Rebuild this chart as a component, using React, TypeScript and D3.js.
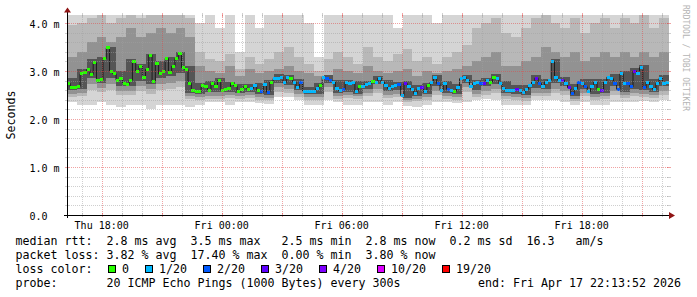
import React from "react";
import * as d3 from "d3";

// ---------- data ----------
// median RTT per 10-minute step, in ms
const MEDIAN_MS = [
  2.74, 2.66, 2.66, 2.68, 2.94, 2.97, 3.03, 2.93, 3.17, 2.81,
  2.82, 3.26, 3.48, 3.0, 2.94, 2.81, 2.85, 2.74, 2.72, 2.81,
  3.19, 3.0, 3.1, 2.87, 3.03, 3.33, 2.78, 3.15, 2.94, 3.0,
  3.26, 2.97, 3.1, 3.26, 3.36, 3.07, 3.03, 2.74, 2.6, 2.58,
  2.57, 2.69, 2.67, 2.6, 2.74, 2.67, 2.8, 2.6, 2.62, 2.64,
  2.74, 2.69, 2.58, 2.62, 2.67, 2.62, 2.64, 2.69, 2.6, 2.57,
  2.72,
  2.56, 2.77, 2.84, 2.85, 2.87, 2.76, 2.87, 2.84, 2.77, 2.65,
  2.77, 2.58, 2.57, 2.58, 2.57, 2.63, 2.7, 2.87, 2.84, 2.81,
  2.77, 2.63, 2.59, 2.62, 2.77, 2.74, 2.76, 2.58, 2.67, 2.67,
  2.72, 2.74, 2.79, 2.77, 2.85, 2.77, 2.69, 2.63, 2.67, 2.69,
  2.72, 2.49, 2.74, 2.67, 2.62, 2.53, 2.63, 2.65, 2.57, 2.7,
  2.77, 2.87, 2.74, 2.59, 2.74, 2.62, 2.6, 2.58, 2.65, 2.84,
  2.87,
  2.81, 2.67, 2.74, 2.76, 2.74, 2.74, 2.81, 2.77, 2.87, 2.84,
  2.74, 2.63, 2.6, 2.59, 2.59, 2.62, 2.59, 2.55, 2.62, 2.7,
  2.77, 2.85, 2.74, 2.67, 2.77, 2.81, 3.19, 2.87, 2.81, 2.81,
  2.74, 2.65, 2.53, 2.63, 2.77, 2.74, 2.67, 2.57, 2.67, 2.77,
  2.62, 2.6, 2.77, 2.87, 2.84, 2.74, 2.62, 2.94, 2.74, 2.74,
  2.67, 3.0, 2.94, 3.07, 2.65, 2.77, 2.67, 2.62, 2.74, 2.85,
  2.74, 2.77,
];
// lost pings (of 20) per step
const MEDIAN_LOSS = [
  0, 0, 0, 0, 0, 0, 0, 0, 0, 0,
  0, 0, 0, 0, 0, 0, 0, 0, 0, 0,
  0, 0, 0, 0, 0, 0, 0, 0, 0, 0,
  0, 0, 0, 0, 0, 0, 0, 0, 0, 0,
  0, 0, 0, 0, 0, 0, 0, 0, 0, 0,
  0, 0, 0, 0, 0, 0, 1, 1, 0, 2,
  1,
  2, 0, 1, 1, 1, 1, 1, 0, 1, 1,
  2, 1, 1, 1, 1, 1, 0, 1, 2, 2,
  1, 1, 1, 2, 1, 1, 1, 1, 0, 1,
  1, 1, 0, 1, 1, 1, 1, 1, 1, 1,
  2, 1, 3, 1, 1, 1, 1, 3, 1, 0,
  1, 1, 2, 1, 1, 2, 1, 0, 1, 1,
  1,
  1, 1, 1, 1, 2, 3, 1, 0, 0, 1,
  1, 1, 1, 1, 1, 3, 1, 1, 1, 1,
  1, 3, 2, 1, 1, 1, 1, 1, 1, 3,
  1, 3, 2, 1, 2, 1, 2, 1, 1, 1,
  0, 3, 1, 1, 1, 2, 2, 1, 1, 2,
  2, 3, 1, 1, 2, 1, 1, 1, 1, 1,
  1, 1,
];

// smoke (ping distribution) per 30-minute column, in ms
const SMOKE_MAX = [
  4.17, 4.17, 4.17, 4.17, 4.17, 4.17, 4.17, 4.17, 4.17, 4.17,
  4.17, 4.17, 4.17, 4.0, 4.17, 3.9, 4.17, 3.4, 4.17, 3.9,
  4.17, 4.17, 4.17, 4.17, 4.0, 3.3, 4.17, 4.17, 4.17, 4.17,
  4.17, 4.17, 4.17, 3.9, 4.17, 4.17, 4.17, 4.0, 4.17, 4.17,
  4.17, 4.17, 4.17, 4.17, 4.17, 4.17, 4.17, 4.17, 4.17, 4.17,
  4.17, 4.17, 4.17, 4.17, 4.17, 4.17, 4.17, 4.17, 4.17, 4.17,
  4.17,
];
const SMOKE_P90 = [
  3.95, 4.0, 4.1, 4.17, 4.0, 4.1, 4.17, 4.1, 4.17, 4.17,
  4.17, 4.17, 4.1, 3.4, 3.25, 3.2, 3.35, 3.05, 3.3, 3.15,
  3.25, 3.4, 3.5, 3.3, 3.15, 3.0, 3.25, 3.4, 3.3, 3.15,
  3.5, 3.3, 3.2, 3.35, 3.45, 3.2, 3.3, 3.15, 3.3, 3.4,
  3.55, 3.9, 4.0, 4.1, 3.8, 3.7, 3.9, 4.1, 4.17, 4.0,
  3.9, 4.1, 3.8, 4.0, 4.1, 3.9, 4.1, 4.0, 4.17, 3.9,
  4.1,
];
const SMOKE_P75 = [
  3.3, 3.4, 3.6, 3.7, 3.6, 3.7, 3.9, 3.7, 3.8, 3.9,
  3.8, 3.9, 3.7, 3.1, 3.0, 2.95, 3.1, 2.9, 3.05, 2.95,
  3.0, 3.05, 3.1, 3.0, 2.95, 2.9, 2.9, 3.05, 3.0, 2.95,
  3.1, 3.0, 2.95, 3.0, 3.05, 2.9, 3.0, 2.95, 3.0, 3.05,
  3.1, 3.2, 3.3, 3.4, 3.1, 3.1, 3.2, 3.3, 3.5, 3.4,
  3.3, 3.4, 3.2, 3.3, 3.4, 3.3, 3.4, 3.3, 3.4, 3.3,
  3.4,
];
const SMOKE_P60 = [
  2.85, 3.05, 3.25, 3.3, 3.5, 3.0, 3.25, 3.15, 3.35, 3.2,
  3.3, 3.4, 3.1, 2.75, 2.8, 2.85, 2.78, 2.73, 2.72, 2.74,
  2.82, 2.93, 2.92, 2.83, 2.66, 2.76, 2.92, 2.82, 2.82, 2.8,
  2.8, 2.9, 2.82, 2.78, 2.8, 2.7, 2.76, 2.92, 2.8, 2.72,
  2.92, 2.82, 2.86, 2.94, 2.8, 2.7, 2.7, 2.92, 2.84, 3.25,
  2.88, 2.72, 2.84, 2.84, 2.84, 2.94, 3.0, 3.06, 3.12, 2.84,
  2.92,
];
const SMOKE_P40 = [
  2.6, 2.62, 2.85, 2.75, 2.85, 2.68, 2.68, 2.8, 2.72, 2.85,
  2.9, 2.95, 2.55, 2.52, 2.56, 2.56, 2.57, 2.54, 2.57, 2.52,
  2.5, 2.76, 2.7, 2.6, 2.52, 2.52, 2.76, 2.54, 2.57, 2.53,
  2.62, 2.72, 2.58, 2.6, 2.44, 2.48, 2.52, 2.68, 2.54, 2.53,
  2.76, 2.6, 2.68, 2.72, 2.54, 2.53, 2.5, 2.64, 2.62, 2.74,
  2.68, 2.48, 2.62, 2.52, 2.55, 2.68, 2.56, 2.62, 2.6, 2.57,
  2.68,
];
const SMOKE_P25 = [
  2.52, 2.54, 2.72, 2.65, 2.72, 2.58, 2.58, 2.68, 2.62, 2.72,
  2.76, 2.8, 2.48, 2.46, 2.48, 2.48, 2.5, 2.47, 2.5, 2.46,
  2.44, 2.66, 2.62, 2.52, 2.46, 2.45, 2.66, 2.47, 2.5, 2.47,
  2.54, 2.62, 2.5, 2.52, 2.4, 2.42, 2.46, 2.58, 2.47, 2.46,
  2.66, 2.52, 2.58, 2.62, 2.47, 2.46, 2.44, 2.55, 2.54, 2.62,
  2.58, 2.42, 2.54, 2.46, 2.48, 2.58, 2.49, 2.54, 2.52, 2.5,
  2.58,
];
const SMOKE_P10 = [
  2.46, 2.48, 2.6, 2.56, 2.6, 2.5, 2.5, 2.58, 2.52, 2.6,
  2.62, 2.66, 2.42, 2.4, 2.42, 2.42, 2.44, 2.41, 2.44, 2.4,
  2.39, 2.56, 2.54, 2.45, 2.4, 2.39, 2.56, 2.41, 2.44, 2.41,
  2.47, 2.54, 2.44, 2.46, 2.35, 2.37, 2.4, 2.5, 2.41, 2.4,
  2.56, 2.46, 2.5, 2.54, 2.41, 2.4, 2.38, 2.48, 2.47, 2.54,
  2.5, 2.37, 2.47, 2.4, 2.42, 2.5, 2.43, 2.47, 2.45, 2.44,
  2.5,
];
const SMOKE_MIN = [
  2.35, 2.3, 2.3, 2.35, 2.3, 2.25, 2.3, 2.3, 2.2, 2.3,
  2.3, 2.3, 2.25, 2.3, 2.35, 2.35, 2.3, 2.35, 2.35, 2.33,
  2.32, 2.45, 2.45, 2.4, 2.3, 2.3, 2.4, 2.35, 2.3, 2.3,
  2.35, 2.35, 2.3, 2.35, 2.28, 2.25, 2.3, 2.35, 2.35, 2.33,
  2.35, 2.4, 2.42, 2.4, 2.3, 2.3, 2.3, 2.4, 2.4, 2.4,
  2.35, 2.3, 2.35, 2.3, 2.3, 2.35, 2.35, 2.35, 2.38, 2.35,
  2.4,
];

// time axis: hours counted from Thursday 00:00
const TIME_START_H = 16.265;
const TIME_END_H = 46.365;
const DAY_NAMES = ["Thu", "Fri"];
const X_LABEL_EVERY_H = 6;
const X_MAJOR_EVERY_H = 3;

const Y_MAX_MS = 200 / 48;
const Y_TICK_VALUES = [0, 1, 2, 3, 4];
const Y_TICK_LABELS = ["0.0", "1.0 m", "2.0 m", "3.0 m", "4.0 m"];

const LOSS_LEVELS = [0, 1, 2, 3, 4, 10, 19];
const LOSS_LABELS = ["0", "1/20", "2/20", "3/20", "4/20", "10/20", "19/20"];
const LOSS_COLORS = ["#26ff00", "#00b8ff", "#0059ff", "#5e00ff", "#7e00ff", "#dd00ff", "#ff0000"];

const STAT_LINES = [
  "median rtt:  2.8 ms avg  3.5 ms max   2.5 ms min  2.8 ms now  0.2 ms sd  16.3   am/s",
  "packet loss: 3.82 % avg  17.40 % max  0.00 % min  3.80 % now",
];
const LOSS_TITLE = "loss color:";
const PROBE_LINE = "probe:       20 ICMP Echo Pings (1000 Bytes) every 300s";
const END_TEXT = "end: Fri Apr 17 22:13:52 2026";
const Y_TITLE = "Seconds";
const WATERMARK = "RRDTOOL / TOBI OETIKER";

const SMOKE_BANDS = [
  { lo: SMOKE_MIN, hi: SMOKE_MAX, color: "#d5d5d5" },
  { lo: SMOKE_P10, hi: SMOKE_P90, color: "#b8b8b8" },
  { lo: SMOKE_P25, hi: SMOKE_P75, color: "#929292" },
  { lo: SMOKE_P40, hi: SMOKE_P60, color: "#555555" },
];

const MONO = "'DejaVu Sans Mono', monospace";

function lossColor(v: number) {
  let c = LOSS_COLORS[0];
  LOSS_LEVELS.forEach((l, i) => {
    if (v >= l) c = LOSS_COLORS[i];
  });
  return c;
}

function fmtHour(h: number) {
  const day = DAY_NAMES[Math.floor(h / 24)];
  const hh = ((h % 24) + 24) % 24;
  return `${day} ${String(hh).padStart(2, "0")}:00`;
}

export default function App() {
  const W = 697, H = 297;
  const left = 67, right = 669, top = 15, bottom = 215;

  const x = d3.scaleLinear().domain([TIME_START_H, TIME_END_H]).range([left, right]);
  const y = d3.scaleLinear().domain([0, Y_MAX_MS]).range([bottom, top]).clamp(true);

  // smoke areas
  const nCols = SMOKE_MIN.length;
  const colStep = (TIME_END_H - TIME_START_H) / nCols;
  const colIdx = d3.range(nCols + 1);
  const smokePaths = SMOKE_BANDS.map((b) => {
    const area = d3
      .area<number>()
      .curve(d3.curveStepAfter)
      .x((k) => x(TIME_START_H + k * colStep))
      .y0((k) => y(b.lo[Math.min(k, nCols - 1)]))
      .y1((k) => y(b.hi[Math.min(k, nCols - 1)]));
    return { d: area(colIdx) || "", color: b.color };
  });

  // median
  const nM = MEDIAN_MS.length;
  const mStep = (TIME_END_H - TIME_START_H) / nM;
  const medIdx = d3.range(nM + 1);
  const medLine =
    d3
      .line<number>()
      .curve(d3.curveStepAfter)
      .x((i) => x(TIME_START_H + i * mStep))
      .y((i) => y(MEDIAN_MS[Math.min(i, nM - 1)]))(medIdx) || "";

  // grid
  const hourTicks = d3.range(Math.ceil(TIME_START_H), TIME_END_H);
  const valTicks = d3.range(1, 21).map((i) => ({ v: i * 0.2, major: i % 5 === 0 }));
  const minorCol = "rgba(160,160,160,0.5)";
  const majorCol = "rgba(225,70,70,0.5)";
  const labelHours = hourTicks.filter((h) => h % X_LABEL_EVERY_H === 0);

  // legend layout
  const legendItems: { bx: number; tx: number; label: string; color: string }[] = [];
  let lx = 108;
  LOSS_LABELS.forEach((label, i) => {
    legendItems.push({ bx: lx, tx: lx + 14, label, color: LOSS_COLORS[i] });
    lx = lx + 14 + label.length * 7 + 16;
  });

  return (
    <svg
      width={W}
      height={H}
      viewBox={`0 0 ${W} ${H}`}
      style={{ position: "absolute", left: 0, top: 0, background: "#fff" }}
    >
      <rect x={0} y={0} width={W} height={H} fill="#ffffff" />

      {/* smoke */}
      <g shapeRendering="crispEdges">
        {smokePaths.map((p, i) => (
          <path key={i} d={p.d} fill={p.color} />
        ))}
      </g>

      {/* median connectors */}
      <path d={medLine} fill="none" stroke="#1c1c1c" strokeWidth={1} />

      {/* median coloured by loss */}
      <g shapeRendering="crispEdges">
        {MEDIAN_MS.map((m, i) => {
          const x0 = x(TIME_START_H + i * mStep);
          const x1 = x(TIME_START_H + (i + 1) * mStep);
          return (
            <rect
              key={i}
              x={x0}
              y={y(m) - 1.5}
              width={x1 - x0}
              height={3}
              fill={lossColor(MEDIAN_LOSS[i])}
            />
          );
        })}
      </g>

      {/* grid */}
      <g shapeRendering="crispEdges">
        {valTicks.map((t, i) => {
          const yy = Math.round(y(t.v)) + 0.5;
          const c = t.major ? majorCol : minorCol;
          return (
            <g key={"h" + i}>
              <line x1={left} x2={right} y1={yy} y2={yy} stroke={c} strokeDasharray="1,1" />
              <line x1={left - 2} x2={left + 2} y1={yy} y2={yy} stroke={c} />
              <line x1={right - 2} x2={right + 2} y1={yy} y2={yy} stroke={c} />
            </g>
          );
        })}
        {hourTicks.map((h) => {
          const xx = Math.round(x(h)) + 0.5;
          const c = h % X_MAJOR_EVERY_H === 0 ? majorCol : minorCol;
          return (
            <g key={"v" + h}>
              <line x1={xx} x2={xx} y1={top} y2={bottom} stroke={c} strokeDasharray="1,1" />
              <line x1={xx} x2={xx} y1={bottom - 2} y2={bottom + 2} stroke={c} />
              <line x1={xx} x2={xx} y1={top - 2} y2={top + 2} stroke={c} />
            </g>
          );
        })}
      </g>

      {/* axes */}
      <g shapeRendering="crispEdges">
        <line x1={64} x2={670} y1={bottom + 0.5} y2={bottom + 0.5} stroke="#000" />
        <line x1={left + 0.5} x2={left + 0.5} y1={bottom + 3} y2={12} stroke="#000" />
      </g>
      <path d={`M${left - 3},${12.5} L${left + 0.5},${7.5} L${left + 4},${12.5} Z`} fill="#8f1414" />
      <path d={`M${669},${212} L${675},${215.5} L${669},${219} Z`} fill="#8f1414" />

      {/* tick labels */}
      <g fontFamily={MONO} fontSize={10} fill="#000">
        {Y_TICK_VALUES.map((v, i) => (
          <text key={i} x={29.5} y={y(v) + 5} style={{ whiteSpace: "pre" }}>
            {Y_TICK_LABELS[i]}
          </text>
        ))}
        {labelHours.map((h) => (
          <text key={h} x={x(h)} y={228.5} textAnchor="middle">
            {fmtHour(h)}
          </text>
        ))}
      </g>

      {/* y title */}
      <text
        transform={`translate(15,${(top + bottom) / 2}) rotate(-90)`}
        textAnchor="middle"
        fontFamily={MONO}
        fontSize={11.63}
        fill="#000"
      >
        {Y_TITLE}
      </text>

      {/* watermark */}
      <text transform={`translate(683,5) rotate(90)`} fontFamily={MONO} fontSize={8} fill="#b4b4b4">
        {WATERMARK}
      </text>

      {/* legend */}
      <g fontFamily={MONO} fontSize={11.63} fill="#000" style={{ whiteSpace: "pre" }}>
        <text x={15.5} y={245} xmlSpace="preserve">{STAT_LINES[0]}</text>
        <text x={15.5} y={259} xmlSpace="preserve">{STAT_LINES[1]}</text>
        <text x={15.5} y={273} xmlSpace="preserve">{LOSS_TITLE}</text>
        {legendItems.map((it, i) => (
          <g key={i}>
            <rect x={it.bx + 0.5} y={265.5} width={7} height={7} fill={it.color} stroke="#000" strokeWidth={1} />
            <text x={it.tx} y={273}>{it.label}</text>
          </g>
        ))}
        <text x={15.5} y={287} xmlSpace="preserve">{PROBE_LINE}</text>
        <text x={681} y={287} textAnchor="end">{END_TEXT}</text>
      </g>
    </svg>
  );
}
